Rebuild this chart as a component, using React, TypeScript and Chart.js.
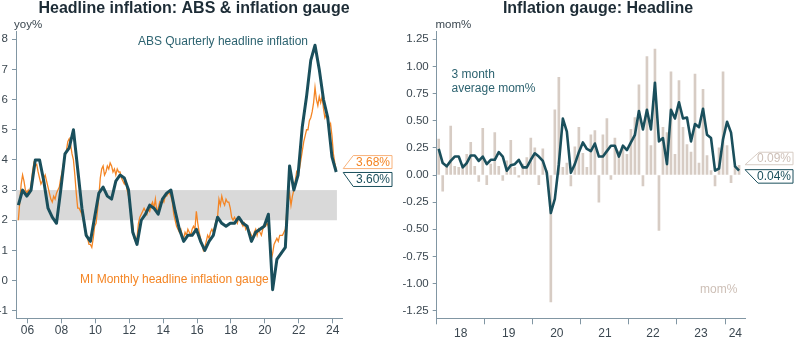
import React, { useEffect, useRef } from "react";
import { Chart, registerables } from "chart.js";

Chart.register(...registerables);

const FONT = '"Liberation Sans", Arial, Helvetica, sans-serif';
const TEAL = "#1a4f5c";
const ORANGE = "#f48524";
const ORANGE_LIGHT = "#f8b27a";
const BEIGE = "#d7ccc4";
const BEIGE_TEXT = "#cdbfb6";
const AXIS = "#8196a3";
const TICK_TEXT = "#3b4750";
const TITLE = "#1d2c36";
const BAND = "#d9d9d9";

// ---------------- Left chart data ----------------
const absFirstYear = 2005;
const absFirstQuarter = 2;
const absQuarterlyYoy = [
  2.5, 3.0, 2.8,
  3.0, 4.0, 4.0, 3.3,
  2.4, 2.1, 1.9, 3.0,
  4.2, 4.4, 5.0, 3.7,
  2.4, 1.5, 1.3, 2.1,
  2.9, 3.1, 2.8, 2.7,
  3.3, 3.5, 3.4, 3.0,
  1.6, 1.2, 2.0, 2.2,
  2.5, 2.4, 2.2, 2.7,
  2.9, 3.0, 2.3, 1.7,
  1.3, 1.5, 1.5, 1.7,
  1.3, 1.0, 1.3, 1.5,
  2.1, 1.9, 1.8, 1.9,
  1.9, 2.1, 1.9, 1.8,
  1.3, 1.6, 1.7, 1.8,
  2.2, -0.3, 0.7, 0.9,
  1.1, 3.8, 3.0, 3.5,
  5.1, 6.1, 7.3, 7.8,
  7.0, 6.0, 5.4, 4.1,
  3.6,
];

const miFirstYear = 2005;
const miFirstMonth = 6;
const miMonthlyYoy = [
  2.0, 2.6, 3.2, 3.5, 3.3, 3.0, 2.9,
  3.0, 2.9, 3.2, 3.6, 3.9, 3.8, 3.85, 3.6, 3.4, 3.2, 3.3, 3.4,
  3.5, 3.3, 3.1, 2.9, 2.7, 2.6, 2.8, 2.7, 2.9, 3.0, 3.1, 3.4,
  3.6, 3.9, 4.1, 4.3, 4.6, 4.7, 4.5, 4.2, 4.0, 3.5, 2.9, 2.4,
  2.4, 2.3, 2.2, 2.0, 1.7, 1.6, 1.4, 1.2, 1.2, 1.1, 1.4, 1.8,
  1.9, 2.3, 2.8, 3.4, 3.7, 3.8, 3.5, 3.6, 3.8, 3.7, 3.9, 3.8,
  3.6, 3.7, 3.5, 3.7, 3.6, 3.6, 3.4, 3.3, 3.2, 3.3, 3.0, 2.8,
  2.5, 2.2, 1.8, 1.4, 1.3, 1.4, 1.9, 2.1, 2.2, 2.3, 2.4, 2.3,
  2.2, 2.4, 2.3, 2.5, 2.6, 2.4, 2.7, 2.3, 2.4, 2.6, 2.5, 2.7,
  2.6, 2.8, 2.8, 2.9, 2.9, 2.8, 2.6, 2.2, 2.0, 1.8, 1.7, 1.6,
  1.7, 1.5, 1.4, 1.6, 1.5, 1.7, 1.6, 1.5, 1.7, 1.8, 1.7, 2.3,
  1.9, 1.6, 1.4, 1.2, 1.0, 1.1, 1.3, 1.5, 1.4, 1.6, 1.7, 1.6,
  1.8, 2.0, 2.1, 2.7, 2.5, 2.8, 2.6, 2.5, 2.7, 2.6, 2.6, 2.4,
  2.1, 2.0, 2.1, 2.0, 1.9, 2.1, 2.0, 1.9, 1.8, 1.9, 1.7, 1.8,
  1.7, 1.6, 1.5, 1.4, 1.6, 1.7, 1.5, 1.7, 1.6, 1.5, 1.7, 1.8,
  1.8, 1.9, 1.8, 1.2, 0.7, 0.9, 1.2, 1.3, 1.4, 1.3, 1.5, 1.5,
  1.5, 1.6, 1.7, 2.3, 2.6, 2.9, 2.5, 2.8, 3.0, 3.3, 3.6, 3.5,
  3.7, 4.0, 4.3, 4.6, 4.8, 5.0, 5.0, 5.3, 5.4, 5.6, 5.9, 6.4,
  6.0, 5.8, 6.1, 5.9, 6.1, 5.7, 5.4, 5.5, 5.3, 5.1, 5.2, 4.8,
  4.2, 3.9, 3.68,
];

const leftYTicks = [-1, 0, 1, 2, 3, 4, 5, 6, 7, 8];
const leftXTicks = [2006, 2008, 2010, 2012, 2014, 2016, 2018, 2020, 2022, 2024];
const leftXTickLabels = ["06", "08", "10", "12", "14", "16", "18", "20", "22", "24"];
const targetBand = [2, 3];
const targetBandEnd = 2024.25;
const leftXRange = [2005.32, 2024.55];
const leftYRange = [-1.25, 8.25];

// ---------------- Right chart data ----------------
const gaugeFirstYear = 2018;
const gaugeFirstMonth = 1;
const gaugeMom = [
  0.33, -0.15, 0.08, 0.45, 0.08, 0.07, 0.10, 0.19, 0.30, 0.08, -0.06, 0.43,
  -0.09, 0.10, 0.39, 0.08, -0.05, 0.13, 0.32, 0.07, -0.02, 0.10, 0.16, 0.34,
  0.25, -0.09, 0.24, 0.04, -1.17, 0.60, 0.90, 0.07, 0.11, -0.10, 0.26, 0.44,
  0.20, 0.07, 0.37, 0.41, -0.25, 0.37, 0.52, -0.04, 0.34, 0.22, 0.24, 0.19,
  0.42, 0.53, 0.83, -0.10, 1.09, 0.27, 1.16, -0.51, 0.44, 0.39, 0.95, 0.19,
  0.87, 0.44, 0.28, 0.21, 0.93, 0.11, 0.79, 0.18, 0.04, -0.10, 0.25, 0.95,
  0.27, -0.07, 0.08, 0.09,
];
const gauge3mAvg = [
  0.24, 0.11, 0.08, 0.13, 0.17, 0.17, 0.07, 0.11, 0.18, 0.18, 0.13, 0.17,
  0.10, 0.14, 0.14, 0.21, 0.17, 0.04, 0.09, 0.10, 0.14, 0.07, 0.07, 0.14,
  0.20, 0.17, 0.13, 0.02, -0.35, -0.22, 0.10, 0.52, 0.40, 0.02, 0.10, 0.21,
  0.30, 0.24, 0.22, 0.29, 0.17, 0.17, 0.22, 0.27, 0.27, 0.17, 0.27, 0.23,
  0.30, 0.37, 0.59, 0.42, 0.60, 0.42, 0.85, 0.31, 0.34, 0.10, 0.60, 0.52,
  0.67, 0.52, 0.53, 0.31, 0.47, 0.44, 0.61, 0.37, 0.34, 0.04, 0.06, 0.33,
  0.49, 0.39, 0.08, 0.04,
];
const rightYTicks = [-1.25, -1.0, -0.75, -0.5, -0.25, 0, 0.25, 0.5, 0.75, 1.0, 1.25];
const rightYearTicks = [2018, 2019, 2020, 2021, 2022, 2023, 2024];
const rightYearLabels = ["18", "19", "20", "21", "22", "23", "24"];
const rightXRange = [2018.0, 2024.43];
const rightYRange = [-1.32, 1.32];

// ---------------- helpers ----------------
const monthX = (y0: number, m0: number, i: number) => y0 + (m0 - 1 + i + 0.5) / 12;
const quarterX = (y0: number, q0: number, i: number) => {
  const tq = q0 - 1 + i;
  const year = y0 + Math.floor(tq / 4);
  const month = (tq % 4) * 3 + 3;
  return year + (month - 0.5) / 12;
};

function drawCallout(ctx: CanvasRenderingContext2D, o: any) {
  ctx.save();
  ctx.beginPath();
  if (o.tipAtBottom) {
    ctx.moveTo(o.tipX + o.slant, o.top);
    ctx.lineTo(o.right, o.top);
    ctx.lineTo(o.right, o.bottom);
    ctx.lineTo(o.tipX, o.bottom);
  } else {
    ctx.moveTo(o.tipX, o.top);
    ctx.lineTo(o.right, o.top);
    ctx.lineTo(o.right, o.bottom);
    ctx.lineTo(o.tipX + o.slant, o.bottom);
  }
  ctx.closePath();
  ctx.fillStyle = "#ffffff";
  ctx.fill();
  ctx.strokeStyle = o.stroke;
  ctx.lineWidth = 1;
  ctx.stroke();
  ctx.fillStyle = o.color;
  ctx.font = `12px ${FONT}`;
  ctx.textAlign = "right";
  ctx.textBaseline = "middle";
  ctx.fillText(o.text, o.right - 2, (o.top + o.bottom) / 2 + 0.5);
  ctx.restore();
}

function text(ctx: CanvasRenderingContext2D, s: string, x: number, y: number, color: string, font: string, align: CanvasTextAlign = "left") {
  ctx.save();
  ctx.fillStyle = color;
  ctx.font = font;
  ctx.textAlign = align;
  ctx.textBaseline = "middle";
  ctx.fillText(s, x, y);
  ctx.restore();
}

const W = 397;
const H = 340;

function LeftChart() {
  const ref = useRef<HTMLCanvasElement | null>(null);
  useEffect(() => {
    if (!ref.current) return;
    const absPoints = absQuarterlyYoy.map((v, i) => ({ x: quarterX(absFirstYear, absFirstQuarter, i), y: v }));
    const miPoints = miMonthlyYoy.map((v, i) => ({ x: monthX(miFirstYear, miFirstMonth, i), y: v }));

    const overlay = {
      id: "leftOverlay",
      beforeDatasetsDraw(chart: any) {
        const { ctx, chartArea, scales } = chart;
        const x0 = chartArea.left;
        const x1 = scales.x.getPixelForValue(targetBandEnd);
        const yTop = scales.y.getPixelForValue(targetBand[1]);
        const yBot = scales.y.getPixelForValue(targetBand[0]);
        ctx.save();
        ctx.fillStyle = BAND;
        ctx.fillRect(x0, yTop, x1 - x0, yBot - yTop);
        ctx.restore();
      },
      afterDraw(chart: any) {
        const { ctx, scales } = chart;
        text(ctx, "Headline inflation: ABS & inflation gauge", 194, 8.5, TITLE, `bold 16px ${FONT}`, "center");
        text(ctx, "yoy%", 14, 25, TICK_TEXT, `11.5px ${FONT}`, "left");
        text(ctx, "ABS Quarterly headline inflation", 308, 42, "#2d6370", `12px ${FONT}`, "right");
        text(ctx, "MI Monthly headline inflation gauge", 80, 280, ORANGE, `12px ${FONT}`, "left");
        const lastMi = miPoints[miPoints.length - 1];
        const lastAbs = absPoints[absPoints.length - 1];
        const tipX = scales.x.getPixelForValue(lastMi.x) + 7;
        const yMi = scales.y.getPixelForValue(lastMi.y);
        const yAbs = scales.y.getPixelForValue(lastAbs.y);
        drawCallout(ctx, { text: lastMi.y.toFixed(2) + "%", stroke: ORANGE_LIGHT, color: ORANGE, tipX, top: yMi - 14, bottom: yMi - 1, right: 392, slant: 10, tipAtBottom: true });
        drawCallout(ctx, { text: lastAbs.y.toFixed(2) + "%", stroke: TEAL, color: TEAL, tipX, top: yAbs + 0.5, bottom: yAbs + 14.5, right: 392, slant: 10, tipAtBottom: false });
      },
    };

    const chart = new Chart(ref.current, {
      type: "line",
      data: {
        datasets: [
          { label: "ABS", data: absPoints, borderColor: TEAL, borderWidth: 3, pointRadius: 0, tension: 0, order: 0, borderJoinStyle: "round" },
          { label: "MI", data: miPoints, borderColor: ORANGE, borderWidth: 1.3, pointRadius: 0, tension: 0, order: 1 },
        ],
      },
      options: {
        responsive: false,
        animation: false,
        events: [],
        layout: { padding: { left: 0, right: W - 342, top: 31.7, bottom: 0 } },
        plugins: { legend: { display: false }, tooltip: { enabled: false }, title: { display: false } },
        scales: {
          x: {
            type: "linear",
            min: leftXRange[0],
            max: leftXRange[1],
            afterBuildTicks: (s: any) => { s.ticks = leftXTicks.map((v) => ({ value: v })); },
            afterFit: (s: any) => { s.height = H - 318.3; },
            ticks: {
              autoSkip: false, maxRotation: 0, padding: 0, color: TICK_TEXT,
              font: { family: FONT, size: 12 },
              callback: (v: any) => { const k = leftXTicks.indexOf(Number(v)); return k >= 0 ? leftXTickLabels[k] : ""; },
            },
            grid: { display: true, drawOnChartArea: false, drawTicks: true, tickLength: 5, color: AXIS },
            border: { display: true, color: AXIS, width: 1 },
          },
          y: {
            type: "linear",
            min: leftYRange[0],
            max: leftYRange[1],
            afterBuildTicks: (s: any) => { s.ticks = leftYTicks.map((v) => ({ value: v })); },
            afterFit: (s: any) => { s.width = 16; },
            ticks: { padding: 4, color: TICK_TEXT, font: { family: FONT, size: 11.5 }, callback: (v: any) => String(v) },
            grid: { display: true, drawOnChartArea: false, drawTicks: true, tickLength: 4, color: AXIS },
            border: { display: true, color: AXIS, width: 1 },
          },
        },
      },
      plugins: [overlay],
    } as any);
    return () => chart.destroy();
  }, []);
  return <canvas ref={ref} width={W} height={H} style={{ width: W, height: H, display: "block" }} />;
}

function RightChart() {
  const ref = useRef<HTMLCanvasElement | null>(null);
  useEffect(() => {
    if (!ref.current) return;
    const barPoints = gaugeMom.map((v, i) => ({ x: monthX(gaugeFirstYear, gaugeFirstMonth, i), y: v }));
    const avgPoints = gauge3mAvg.map((v, i) => ({ x: monthX(gaugeFirstYear, gaugeFirstMonth, i), y: v }));

    const overlay = {
      id: "rightOverlay",
      afterDraw(chart: any) {
        const { ctx, scales, chartArea } = chart;
        text(ctx, "Inflation gauge: Headline", 201, 8.5, TITLE, `bold 16px ${FONT}`, "center");
        text(ctx, "mom%", 38.5, 25, TICK_TEXT, `11.5px ${FONT}`, "left");
        text(ctx, "3 month", 54.5, 75, "#2d6370", `12px ${FONT}`, "left");
        text(ctx, "average mom%", 54.5, 89, "#2d6370", `12px ${FONT}`, "left");
        text(ctx, "mom%", 303, 290, BEIGE_TEXT, `12px ${FONT}`, "left");
        // year labels centred between year ticks
        const xMax = scales.x.max;
        rightYearTicks.forEach((yr, k) => {
          const a = scales.x.getPixelForValue(yr);
          const b = scales.x.getPixelForValue(Math.min(yr + 1, xMax));
          text(ctx, rightYearLabels[k], (a + b) / 2, chartArea.bottom + 15, TICK_TEXT, `12px ${FONT}`, "center");
        });
        const lastBar = barPoints[barPoints.length - 1];
        const lastAvg = avgPoints[avgPoints.length - 1];
        const tipX = scales.x.getPixelForValue(lastBar.x) + 6;
        const yBar = scales.y.getPixelForValue(lastBar.y);
        const yAvg = scales.y.getPixelForValue(lastAvg.y);
        drawCallout(ctx, { text: lastBar.y.toFixed(2) + "%", stroke: BEIGE, color: BEIGE_TEXT, tipX, top: yBar - 13, bottom: yBar - 0.5, right: 396, slant: 14, tipAtBottom: true });
        drawCallout(ctx, { text: lastAvg.y.toFixed(2) + "%", stroke: TEAL, color: TEAL, tipX, top: yAvg - 1, bottom: yAvg + 12.5, right: 396, slant: 13, tipAtBottom: false });
      },
    };

    const chart = new Chart(ref.current, {
      type: "bar",
      data: {
        datasets: [
          { type: "line", label: "3m avg", data: avgPoints, borderColor: TEAL, borderWidth: 2.6, pointRadius: 0, tension: 0, order: 0, borderJoinStyle: "round" },
          { type: "bar", label: "mom", data: barPoints, backgroundColor: BEIGE, borderWidth: 0, barThickness: 2, order: 1 },
        ],
      },
      options: {
        responsive: false,
        animation: false,
        events: [],
        layout: { padding: { left: 0, right: W - 348.7, top: 31.7, bottom: 0 } },
        plugins: { legend: { display: false }, tooltip: { enabled: false }, title: { display: false } },
        scales: {
          x: {
            type: "linear",
            offset: false,
            min: rightXRange[0],
            max: rightXRange[1],
            afterBuildTicks: (s: any) => { s.ticks = rightYearTicks.map((v) => ({ value: v })); },
            afterFit: (s: any) => { s.height = H - 318.3; },
            ticks: { display: false },
            grid: { display: true, drawOnChartArea: false, drawTicks: true, tickLength: 6, color: AXIS, offset: false },
            border: { display: true, color: AXIS, width: 1 },
          },
          y: {
            type: "linear",
            min: rightYRange[0],
            max: rightYRange[1],
            afterBuildTicks: (s: any) => { s.ticks = rightYTicks.map((v) => ({ value: v })); },
            afterFit: (s: any) => { s.width = 39.7; },
            ticks: { padding: 4, color: TICK_TEXT, font: { family: FONT, size: 11.5 }, callback: (v: any) => Number(v).toFixed(2) },
            grid: { display: true, drawOnChartArea: false, drawTicks: true, tickLength: 4, color: AXIS },
            border: { display: true, color: AXIS, width: 1 },
          },
        },
      },
      plugins: [overlay],
    } as any);
    return () => chart.destroy();
  }, []);
  return <canvas ref={ref} width={W} height={H} style={{ width: W, height: H, display: "block" }} />;
}

export default function App() {
  return (
    <div style={{ position: "absolute", left: 0, top: 0, width: 794, height: 340, display: "flex", background: "#ffffff", overflow: "hidden" }}>
      <LeftChart />
      <RightChart />
    </div>
  );
}
